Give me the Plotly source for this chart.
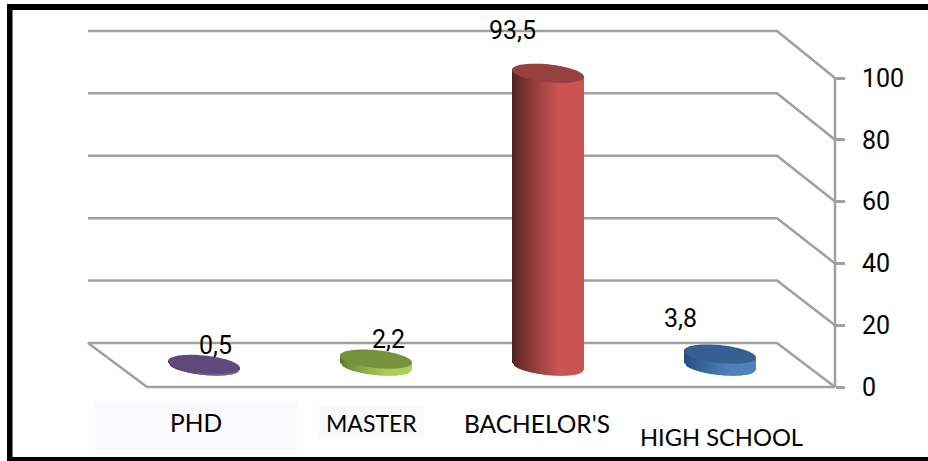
import math
import plotly.graph_objects as go

categories = ["PHD", "MASTER", "BACHELOR'S", "HIGH SCHOOL"]
values = [0.5, 2.2, 93.5, 3.8]
value_labels = ["0,5", "2,2", "93,5", "3,8"]
axis_ticks = [0, 20, 40, 60, 80, 100]

side_dark = ["#3f2f55", "#5f7530", "#4a2222", "#234a7c"]
side_light = ["#8064a2", "#a6d05a", "#cb5452", "#4f81bd"]
top_color = ["#604a7b", "#76923c", "#96403f", "#376092"]

W, H = 928, 461
PX_PER_UNIT = 3.09
ZERO_PX = 387
SLOT_PX = 172
FIRST_PX = 204


def vy(py):
    return (ZERO_PX - py) / PX_PER_UNIT


def sx(px):
    return (px - FIRST_PX) / SLOT_PX


fig = go.Figure()


def line(xs, ys, color="#a0a0a0", width=2.5):
    fig.add_trace(go.Scatter(x=xs, y=ys, mode="lines", hoverinfo="skip",
                             line=dict(color=color, width=width)))


# walls: gridlines run along the back wall and then slant to the front axis
back_left, back_right = sx(88), sx(777)
front_left, front_right = sx(147), sx(835)
depth_shift = vy(343)
for t in axis_ticks:
    by = depth_shift + t * 1.01
    if t == 0:
        line([front_left, back_left, back_right, front_right], [t, by, by, t])
        line([front_left, front_right], [t, t])
    else:
        line([back_left, back_right, front_right], [by, by, t])
line([front_right, front_right], [axis_ticks[0], axis_ticks[-1]])


def mix(c1, c2, f):
    a = [int(c1[i:i + 2], 16) for i in (1, 3, 5)]
    b = [int(c2[i:i + 2], 16) for i in (1, 3, 5)]
    return "rgb(%d,%d,%d)" % tuple(round(p + (q - p) * f) for p, q in zip(a, b))


# cylinders
HALF_W = 36 / SLOT_PX
HALF_H = 9 / PX_PER_UNIT
TILT = 3.5 / PX_PER_UNIT
BASE = vy(366)
VALUE_SCALE = 1.013
STRIPS = 36


def low(u):
    return BASE - TILT * u - HALF_H * math.sqrt(max(0, 1 - u * u))


for i, v in enumerate(values):
    top = BASE + v * VALUE_SCALE
    for k in range(STRIPS):
        u0 = -1 + 2 * k / STRIPS
        u1 = min(1, -1 + 2 * (k + 2) / STRIPS)  # overlaps the next strip, which paints over it
        um = u0 + 1 / STRIPS
        f = min(1, (um + 1) / 1.3) ** 0.8
        col = mix(side_dark[i], side_light[i], f)
        xs = [i + HALF_W * u0, i + HALF_W * u1, i + HALF_W * u1, i + HALF_W * u0, i + HALF_W * u0]
        ys = [low(u0), low(u1), top - TILT * u1, top - TILT * u0, low(u0)]
        fig.add_trace(go.Scatter(x=xs, y=ys, mode="none", fill="toself", fillcolor=col,
                                 hoverinfo="skip"))
    ts = [2 * math.pi * k / 72 for k in range(73)]
    fig.add_trace(go.Scatter(
        x=[i + HALF_W * math.cos(t) for t in ts],
        y=[top - TILT * math.cos(t) + HALF_H * math.sin(t) for t in ts],
        mode="none", fill="toself", fillcolor=top_color[i], hoverinfo="skip"))

TEXT_FONT = "Lato"
NUM_FONT = "Roboto"
BLACK = "#000000"

# value labels
label_pos = [(215, 345), (388, 339), (512, 30), (680, 318)]
for txt, (px, py) in zip(value_labels, label_pos):
    fig.add_annotation(x=sx(px), y=vy(py), text=txt, showarrow=False,
                       font=dict(family=NUM_FONT, size=25, color=BLACK))

# category labels
cat_pos = [(196, 422, 24.5), (371, 423, 23), (537, 423, 24.5), (721, 437, 23.7)]
for txt, (px, py, sz) in zip(categories, cat_pos):
    fig.add_annotation(x=sx(px), y=vy(py), text=txt, showarrow=False,
                       font=dict(family=TEXT_FONT, size=sz, color=BLACK))

shapes = []
# pale label backgrounds
for x0, x1, y0, y1 in [(95, 297, 402, 455), (319, 424, 406, 438)]:
    shapes.append(dict(type="rect", layer="below", x0=sx(x0), x1=sx(x1), y0=vy(y0), y1=vy(y1),
                       fillcolor="#f7f9fb", line=dict(width=0)))
# black frame: top, left, bottom
for x0, x1, y0, y1 in [(7, 928, 4, 10), (7, 12.5, 4, 461), (7, 928, 457, 461)]:
    shapes.append(dict(type="rect", x0=sx(x0), x1=sx(x1), y0=vy(y0), y1=vy(y1),
                       fillcolor=BLACK, line=dict(width=0)))

fig.update_layout(
    width=W, height=H, margin=dict(l=0, r=0, t=0, b=0),
    paper_bgcolor="white", plot_bgcolor="white", showlegend=False,
    shapes=shapes,
    xaxis=dict(range=[sx(0), sx(W)], visible=False, fixedrange=True),
    yaxis=dict(range=[vy(H), vy(0)], anchor="free", position=835 / W, side="right",
               tickvals=axis_ticks, ticks="outside", ticklen=9, tickwidth=2.5, tickcolor="#a0a0a0",
               showgrid=False, zeroline=False, showline=False, ticklabelstandoff=12,
               tickfont=dict(family=NUM_FONT, size=25, color=BLACK), fixedrange=True),
)

fig.write_html("out.html", config=dict(displayModeBar=False),
               post_script="document.body.style.margin='0';")
